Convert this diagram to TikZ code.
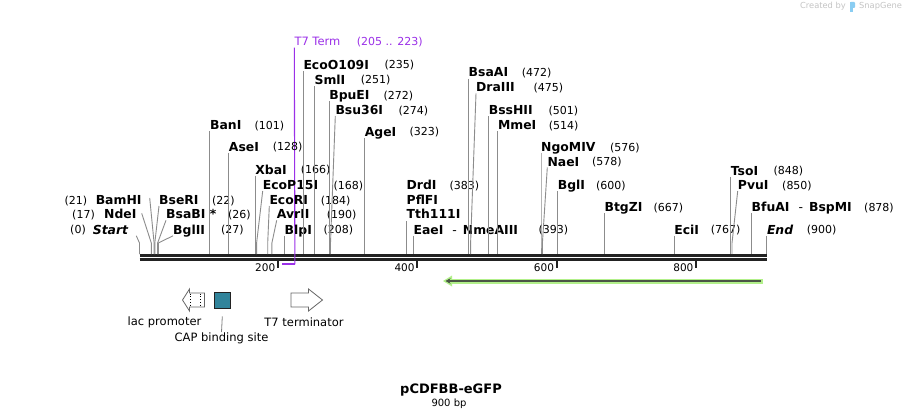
\documentclass[tikz,border=0pt]{standalone}
\usepackage{fontspec}
\setmainfont{DejaVu Sans}
\usetikzlibrary{arrows.meta}
\definecolor{cutgray}{HTML}{8C8C8C}
\definecolor{t7purple}{HTML}{9B30E8}
\definecolor{capteal}{HTML}{31849B}
\definecolor{gfplight}{HTML}{B2F08A}
\definecolor{gfpdark}{HTML}{4A5545}
\definecolor{wmgray}{HTML}{C4C4C4}
\definecolor{wmblue}{HTML}{8ACDF2}
\definecolor{bbdark}{HTML}{222222}
\newcommand\rsite[7]{%
  \node[enz,anchor=west] (n#1) at (#3,#4) {#2};
  \node[num,anchor=west] (m#1) at (#6,#4) {#5};
  \coordinate (c#1) at (#7,254);
  \draw[cut] ([yshift=-6pt]n#1.west) -- (#7,243) -- (c#1);}
\newcommand\lsite[9]{%
  \node[enz,anchor=east] (n#1) at (#3,#4) {#2};
  \node[num,anchor=east] (m#1) at (#6,#4) {#5};
  \coordinate (c#1) at (#7,254);
  \draw[cut] ([xshift=#8,yshift=#9]n#1.east) -- (#7,243) -- (c#1);}
\begin{document}
\begin{tikzpicture}[x=1pt,y=-1pt,
  enz/.style={inner sep=0pt, font=\bfseries\fontsize{12.4}{14}\selectfont, text height=9pt, text depth=0pt},
  num/.style={inner sep=0pt, font=\fontsize{11}{13}\selectfont, text height=8pt, text depth=0pt},
  cut/.style={draw=cutgray, line width=0.9pt},
  ticklab/.style={inner sep=0pt, font=\fontsize{10.5}{12}\selectfont, anchor=east},
  tickmark/.style={draw=bbdark, line width=2pt},
  feat/.style={draw=gray!80!black, line width=0.8pt, fill=white},
  featlab/.style={inner sep=0pt, font=\fontsize{11.5}{13}\selectfont},
  wm/.style={inner sep=0pt, text=wmgray, font=\fontsize{8.3}{9}\selectfont}]
\fill[white] (0,0) rectangle (907,420);
\useasboundingbox (0,0) rectangle (907,420);

% watermark
\node[wm,anchor=east] (wmcreated) at (846,6.7) {Created by};
\fill[wmblue, rounded corners=1pt] (850,2) rectangle (855,8);
\fill[wmblue] (850,2) rectangle (852.5,12);
\node[wm,anchor=west] (wmsnap) at (859,6.7) {SnapGene};

% backbone
\coordinate (bbL) at (139.5,255.3);
\coordinate (bbR) at (766.8,255.3);
\draw[bbdark, line width=2.5pt] (bbL) -- (bbR);
\draw[bbdark, line width=2.5pt] ([yshift=-4.4pt]bbL) -- ([yshift=-4.4pt]bbR);

% ticks
\foreach \tx/\tl in {277.9/200, 417.3/400, 556.7/600, 696.1/800}{
  \draw[tickmark] (\tx,261) -- (\tx,268);
  \node[ticklab] (t\tl) at (\tx-2.5,267.5) {\tl};
}

% T7 term bracket
\node[inner sep=0pt, anchor=west, text=t7purple, font=\fontsize{11.5}{13}\selectfont, text height=8.5pt, text depth=0pt] (t7lab) at (294.3,41.7) {T7 Term};
\node[inner sep=0pt, anchor=west, text=t7purple, font=\fontsize{11}{13}\selectfont, text height=8pt, text depth=0pt] (t7num) at (356.7,41.7) {(205 .. 223)};
\coordinate (t7a) at (282.4,264);
\draw[t7purple, line width=1.1pt] ([yshift=-6pt]t7lab.west) -- (294.9,264);
\draw[t7purple, line width=2pt] (295.4,264) -- (t7a);

% left-hand labels
\lsite{BamHI}{BamHI}{141.7}{200}{(21)}{87.3}{154.1}{8pt}{2pt}
\lsite{NdeI}{NdeI}{136.7}{214.3}{(17)}{95}{151.3}{5pt}{1pt}
\lsite{Start}{\itshape Start}{128.3}{229.8}{(0)}{86}{139.5}{8pt}{-6pt}

% right-hand labels
\rsite{BseRI}{BseRI}{159}{200}{(22)}{212}{154.8}
\rsite{BsaBI}{BsaBI *}{166}{214.3}{(26)}{228}{157.6}
\rsite{BglII}{BglII}{173}{229.8}{(27)}{221}{158.3}
\rsite{BanI}{BanI}{209.9}{125}{(101)}{254.5}{209.9}
\rsite{AseI}{AseI}{228.7}{146.5}{(128)}{272.7}{228.7}
\rsite{XbaI}{XbaI}{255.2}{169.5}{(166)}{300.7}{255.2}
\rsite{EcoP}{EcoP15I}{262.7}{185}{(168)}{333.3}{256.6}
\rsite{EcoRI}{EcoRI}{269.3}{200}{(184)}{320.7}{267.7}
\rsite{AvrII}{AvrII}{276.7}{214.3}{(190)}{326.7}{271.9}
\rsite{BlpI}{BlpI}{284.5}{229.8}{(208)}{323.3}{284.5}
\rsite{EcoO}{EcoO109I}{303.3}{65}{(235)}{384.3}{303.3}
\rsite{SmlI}{SmlI}{314.4}{80}{(251)}{360.7}{314.4}
\rsite{BpuEI}{BpuEI}{329.1}{95}{(272)}{383.3}{329.1}
\rsite{Bsu}{Bsu36I}{335.3}{110}{(274)}{398.3}{330.5}
\rsite{AgeI}{AgeI}{364.6}{131.5}{(323)}{409.3}{364.6}
\node[enz,anchor=west] (nDrdI) at (406.5,185) {DrdI};
\node[num,anchor=west] (mDrdI) at (449.3,185) {(383)};
\node[enz,anchor=west] (nPflFI) at (406.5,200) {PflFI};
\node[enz,anchor=west] (nTth) at (406.5,214.3) {Tth111I};
\coordinate (cTth) at (406.5,254);
\draw[cut] ([yshift=-7pt]nTth.west) -- (cTth);
\rsite{EaeI}{EaeI\hspace{9pt}{\mdseries -}\hspace{6pt}NmeAIII}{413.4}{229.8}{(393)}{538.3}{413.4}
\rsite{BsaAI}{BsaAI}{468.5}{72.5}{(472)}{521.7}{468.5}
\rsite{DraIII}{DraIII}{476}{87.3}{(475)}{533.3}{470.6}
\rsite{BssHII}{BssHII}{488.7}{110}{(501)}{548.3}{488.7}
\rsite{MmeI}{MmeI}{497.8}{125}{(514)}{548.7}{497.8}
\rsite{NgoMIV}{NgoMIV}{541.0}{147}{(576)}{610}{541.0}
\rsite{NaeI}{NaeI}{547.3}{161.5}{(578)}{592}{542.4}
\rsite{BglI}{BglI}{557.7}{185}{(600)}{596}{557.7}
\rsite{BtgZI}{BtgZI}{604.4}{207.3}{(667)}{653.3}{604.4}
\rsite{EciI}{EciI}{674.1}{229.8}{(767)}{710.7}{674.1}
\rsite{TsoI}{TsoI}{730.6}{170.5}{(848)}{773.3}{730.6}
\rsite{PvuI}{PvuI}{737.7}{185}{(850)}{782}{732.0}
\rsite{BfuAI}{BfuAI\hspace{9pt}{\mdseries -}\hspace{6pt}BspMI}{751.5}{207.3}{(878)}{864}{751.5}
\rsite{End}{\itshape End}{766.8}{229.8}{(900)}{806.7}{766.8}

% reverse feature arrow (green)
\coordinate (gR) at (763,281);
\coordinate (gL) at (443,281);
\draw[gfplight, line width=5pt] (gR) -- (450,281);
\fill[gfplight] (gL) -- (452,275.5) -- (452,286.5) -- cycle;
\draw[gfpdark, line width=1.8pt, -{Stealth[length=5pt,width=5.5pt]}] (761,281) -- (445.5,281);

% features
\draw[feat] (182.5,300) -- (189.5,289) -- (189.5,293) -- (204.5,293) -- (204.5,307) -- (189.5,307) -- (189.5,311) -- cycle;
\draw[black, line width=0.8pt, dotted] (190,293.5) -- (190,306.5);
\draw[black, line width=0.8pt, dotted] (200,293.5) -- (200,306.5);
\node[draw=bbdark, line width=0.8pt, fill=capteal, minimum size=16pt, inner sep=0pt] (cap) at (222.3,300) {};
\draw[feat] (291,293) -- (308.5,293) -- (308.5,289) -- (322.5,300) -- (308.5,311) -- (308.5,307) -- (291,307) -- cycle;

\node[featlab, anchor=east] (laclab) at (201.5,322.5) {lac promoter};
\node[featlab] (t7tlab) at (304,322.5) {T7 terminator};
\node[featlab, anchor=north] (caplab) at (221.5,333) {CAP binding site};
\draw[gray, line width=0.8pt] ([yshift=-8pt]cap.south) -- ([yshift=1pt]caplab.north);

% title
\node[inner sep=0pt, font=\bfseries\fontsize{13}{15}\selectfont] (title) at (451,390) {pCDFBB-eGFP};
\node[inner sep=0pt, font=\fontsize{10}{12}\selectfont] (size) at (449,404) {900 bp};
\end{tikzpicture}
\end{document}
